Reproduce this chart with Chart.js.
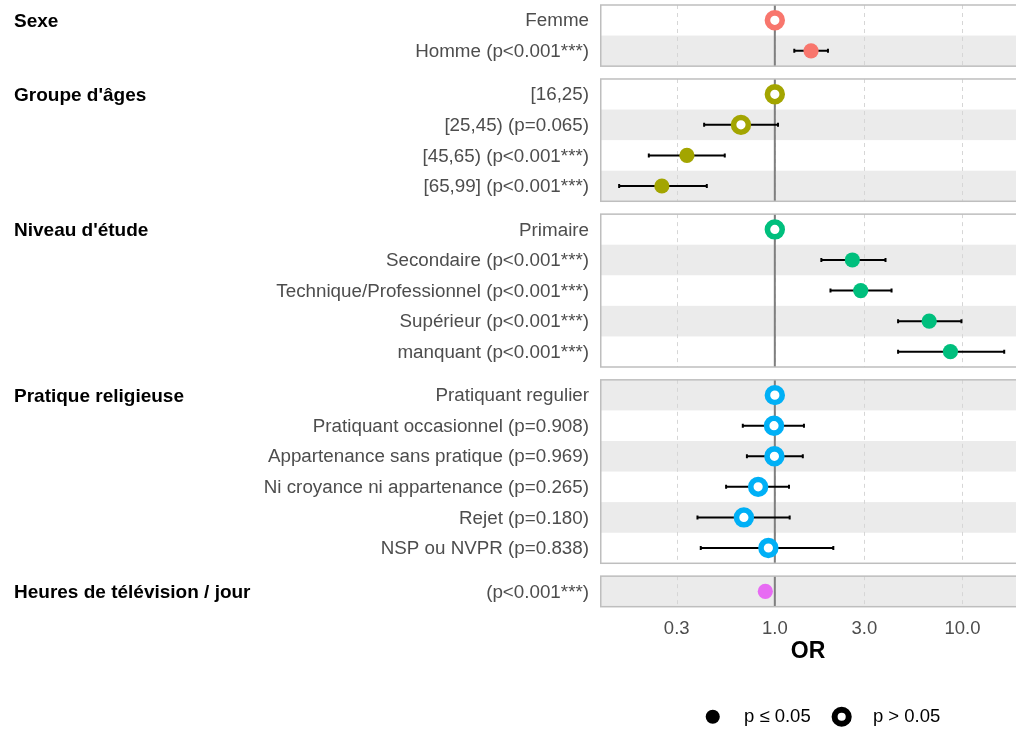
<!DOCTYPE html>
<html>
<head>
<meta charset="utf-8">
<script src="https://cdn.jsdelivr.net/npm/chart.js@4.4.1/dist/chart.umd.min.js"></script>
<style>
  html, body { margin: 0; padding: 0; background: #fff; overflow: hidden; }
  #wrap { width: 1016px; height: 731px; }
</style>
</head>
<body>
<div id="wrap"><canvas id="forestChart"></canvas></div>
<script>
const groupNames = ['Sexe', "Groupe d'âges", "Niveau d'étude", 'Pratique religieuse', 'Heures de télévision / jour'];
const rowLabels = [
  ['Femme', 'Homme (p<0.001***)'],
  ['[16,25)', '[25,45) (p=0.065)', '[45,65) (p<0.001***)', '[65,99] (p<0.001***)'],
  ['Primaire', 'Secondaire (p<0.001***)', 'Technique/Professionnel (p<0.001***)', 'Supérieur (p<0.001***)', 'manquant (p<0.001***)'],
  ['Pratiquant regulier', 'Pratiquant occasionnel (p=0.908)', 'Appartenance sans pratique (p=0.969)',
   'Ni croyance ni appartenance (p=0.265)', 'Rejet (p=0.180)', 'NSP ou NVPR (p=0.838)'],
  ['(p<0.001***)']
];
const orValues = [
  [1, 1.56],
  [1, 0.66, 0.34, 0.25],
  [1, 2.59, 2.87, 6.65, 8.63],
  [1, 0.99, 0.995, 0.815, 0.684, 0.924],
  [0.89]
];
const ciLow = [
  [null, 1.27],
  [null, 0.42, 0.213, 0.148],
  [null, 1.77, 1.98, 4.54, 4.54],
  [null, 0.675, 0.71, 0.55, 0.387, 0.403],
  [0.875]
];
const ciHigh = [
  [null, 1.92],
  [null, 1.04, 0.541, 0.434],
  [null, 3.89, 4.19, 9.88, 16.7],
  [null, 1.43, 1.41, 1.19, 1.2, 2.05],
  [0.905]
];
// null = reference level
const pValues = [
  [null, 0.0001],
  [null, 0.065, 0.0001, 0.0001],
  [null, 0.0001, 0.0001, 0.0001, 0.0001],
  [null, 0.908, 0.969, 0.265, 0.180, 0.838],
  [0.0001]
];
const groupColors = ['#F8766D', '#A3A500', '#00BF7D', '#00B0F6', '#E76BF3'];
const xTicks = [0.3, 1, 3, 10];
const legendLabels = ['p ≤ 0.05', 'p > 0.05'];

const FONT = "'Liberation Sans', Arial, sans-serif";
Chart.defaults.font.family = FONT;

// rows on a numeric y axis, with a small gap between groups
const GAP = 0.42;
const rowPos = [];
const panels = [];
let cursor = 0;
rowLabels.forEach(rows => {
  const start = cursor;
  rowPos.push(rows.map((_, i) => start + i + 0.5));
  cursor += rows.length;
  panels.push({ start: start, end: cursor });
  cursor += GAP;
});
const yMax = cursor - GAP;
const flatPos = rowPos.flat();
const flatLabels = rowLabels.flat();

const isSig = p => p !== null && p <= 0.05;

const pointSets = groupNames.map((name, g) => ({
  label: name,
  data: orValues[g].map((v, i) => ({ x: v, y: rowPos[g][i] })),
  pointBackgroundColor: pValues[g].map(p => isSig(p) ? groupColors[g] : '#FFFFFF'),
  pointBorderColor: groupColors[g],
  pointBorderWidth: pValues[g].map(p => isSig(p) ? 0 : 5.6),
  pointRadius: pValues[g].map(p => isSig(p) ? 7.6 : 7.4),
  pointHoverRadius: pValues[g].map(p => isSig(p) ? 7.6 : 7.4),
  order: 0
}));

const ciData = [];
orValues.forEach((vals, g) => vals.forEach((v, i) => {
  if (ciLow[g][i] === null) return;
  ciData.push({ x: ciLow[g][i], y: rowPos[g][i] }, { x: ciHigh[g][i], y: rowPos[g][i] }, { x: null, y: null });
}));

const ciSet = {
  label: 'IC 95%',
  data: ciData,
  showLine: true,
  spanGaps: false,
  borderColor: '#000',
  borderWidth: 2,
  pointStyle: 'line',
  pointRotation: 90,
  pointRadius: 2,
  pointHoverRadius: 2,
  pointBorderWidth: 2,
  pointBorderColor: '#000',
  order: 1
};

const panelPlugin = {
  id: 'panels',
  afterLayout(chart) {
    // the original plot is cropped on the right, so its legend sits a bit right of the panel centre
    chart.legend.left += 14;
    chart.legend.right += 14;
  },
  beforeDatasetsDraw(chart) {
    const { ctx, chartArea, scales: { x, y } } = chart;
    const left = chartArea.left, right = chartArea.right;
    ctx.save();
    let rowIdx = 0;
    panels.forEach(p => {
      const top = y.getPixelForValue(p.start);
      const bottom = y.getPixelForValue(p.end);
      ctx.fillStyle = '#EBEBEB';
      for (let v = p.start; v < p.end - 0.01; v++, rowIdx++) {
        if (rowIdx % 2 === 1) {
          const t = y.getPixelForValue(v);
          ctx.fillRect(left, t, right - left, y.getPixelForValue(v + 1) - t);
        }
      }
      ctx.strokeStyle = '#D6D6D6';
      ctx.lineWidth = 1;
      ctx.setLineDash([4, 4]);
      x.ticks.forEach(t => {
        const px = Math.round(x.getPixelForValue(t.value)) + 0.5;
        ctx.beginPath(); ctx.moveTo(px, top); ctx.lineTo(px, bottom); ctx.stroke();
      });
      ctx.setLineDash([]);
      ctx.strokeStyle = '#7F7F7F';
      ctx.lineWidth = 2;
      const ref = x.getPixelForValue(1);
      ctx.beginPath(); ctx.moveTo(ref, top); ctx.lineTo(ref, bottom); ctx.stroke();
      ctx.strokeStyle = '#BEBEBE';
      ctx.lineWidth = 1.5;
      ctx.strokeRect(left + 0.75, top, right - left + 10, bottom - top);
    });
    ctx.fillStyle = '#000';
    ctx.font = 'bold 19px ' + FONT;
    ctx.textAlign = 'left';
    ctx.textBaseline = 'middle';
    groupNames.forEach((n, g) => ctx.fillText(n, 14, y.getPixelForValue(rowPos[g][0]) + 1.5));
    ctx.restore();
  }
};

new Chart(document.getElementById('forestChart'), {
  type: 'scatter',
  data: { datasets: [...pointSets, ciSet] },
  options: {
    responsive: true,
    maintainAspectRatio: false,
    animation: false,
    events: [],
    layout: { autoPadding: false, padding: { top: 5, left: 0, right: 0, bottom: -5 } },
    plugins: {
      tooltip: { enabled: false },
      legend: {
        position: 'bottom',
        fullSize: false,
        onClick: null,
        labels: {
          usePointStyle: true,
          boxWidth: 18,
          boxHeight: 10,
          padding: 22,
          color: '#000',
          font: { size: 18.5 },
          generateLabels: () => legendLabels.map((t, i) => ({
            text: '\u2002\u2009' + t,
            fillStyle: i === 0 ? '#000' : '#FFF',
            strokeStyle: '#000',
            lineWidth: i === 0 ? 0 : 6,
            pointStyle: 'circle',
            fontColor: '#000',
            hidden: false
          }))
        }
      }
    },
    scales: {
      x: {
        type: 'logarithmic',
        min: 0.117,
        max: 19.3,
        afterBuildTicks: s => { s.ticks = xTicks.map(v => ({ value: v })); },
        afterFit: s => { s.paddingLeft = 0; s.paddingRight = 0; },
        grid: { display: false, drawTicks: false },
        border: { display: false },
        ticks: {
          autoSkip: false,
          maxRotation: 0,
          padding: 11,
          color: '#4D4D4D',
          font: { size: 18.5 },
          callback: v => Number(v).toFixed(1)
        },
        title: {
          display: true,
          text: 'OR',
          color: '#000',
          font: { size: 23, weight: 'bold' },
          padding: { top: -13, bottom: 20 }
        }
      },
      y: {
        type: 'linear',
        reverse: true,
        min: 0,
        max: yMax,
        afterFit: s => { s.width = 600; s.paddingTop = 0; s.paddingBottom = 0; },
        afterBuildTicks: s => { s.ticks = flatPos.map(v => ({ value: v })); },
        grid: { display: false, drawTicks: false },
        border: { display: false },
        ticks: {
          autoSkip: false,
          padding: 11,
          labelOffset: 1,
          color: '#4D4D4D',
          font: { size: 18.8 },
          callback: (v, i) => flatLabels[i]
        }
      }
    }
  },
  plugins: [panelPlugin]
});
</script>
</body>
</html>
